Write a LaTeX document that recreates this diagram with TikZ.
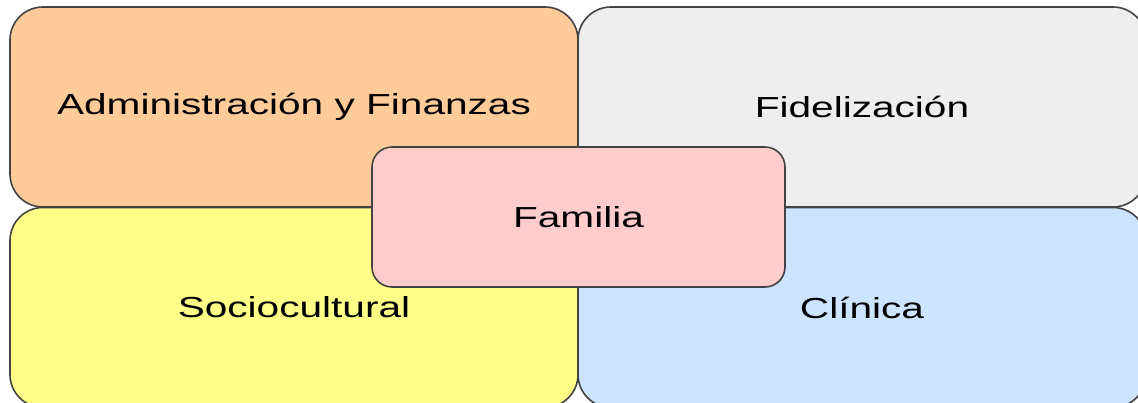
\documentclass[tikz,border=0pt]{standalone}
\usepackage{fontspec}
\newfontfamily\boxfont[FakeStretch=1.4]{Liberation Sans}
\usetikzlibrary{positioning}
\definecolor{orangebox}{HTML}{FFCC99}
\definecolor{graybox}{HTML}{EEEEEE}
\definecolor{yellowbox}{HTML}{FFFF88}
\definecolor{bluebox}{HTML}{CCE4FF}
\definecolor{pinkbox}{HTML}{FFCCCC}
\definecolor{edgecol}{HTML}{434343}
\tikzset{
    areanode/.style = {rectangle, rounded corners=33pt, line width=1.6pt, draw=edgecol, align=center,
                       minimum width=568pt, minimum height=200pt, inner sep=0pt,
                       font=\boxfont\fontsize{29}{34}\selectfont, text=black},
    areanodeo/.style = {areanode, fill=orangebox},
    areanodeg/.style = {areanode, fill=graybox},
    areanodey/.style = {areanode, fill=yellowbox},
    areanodeb/.style = {areanode, fill=bluebox},
    centernode/.style = {areanode, rounded corners=20pt, fill=pinkbox,
                         minimum width=413pt, minimum height=140pt}, % middle
}
\begin{document}
\begin{tikzpicture}[x=1pt,y=-1pt]
\useasboundingbox (0,0) rectangle (1138,403);
\node[areanodeo] at ( 294.0, 107.0) (adm) {Administración y Finanzas};
\node[areanodeg] at ( 862.0, 107.0) (fid) {Fidelización};
\node[areanodey] at ( 294.0, 307.5) (soc) {Sociocultural};
\node[areanodeb] at ( 862.0, 307.5) (cli) {Clínica};
\node[centernode] at ( 578.5, 217.0) (fam) {Familia};
\end{tikzpicture}
\end{document}
